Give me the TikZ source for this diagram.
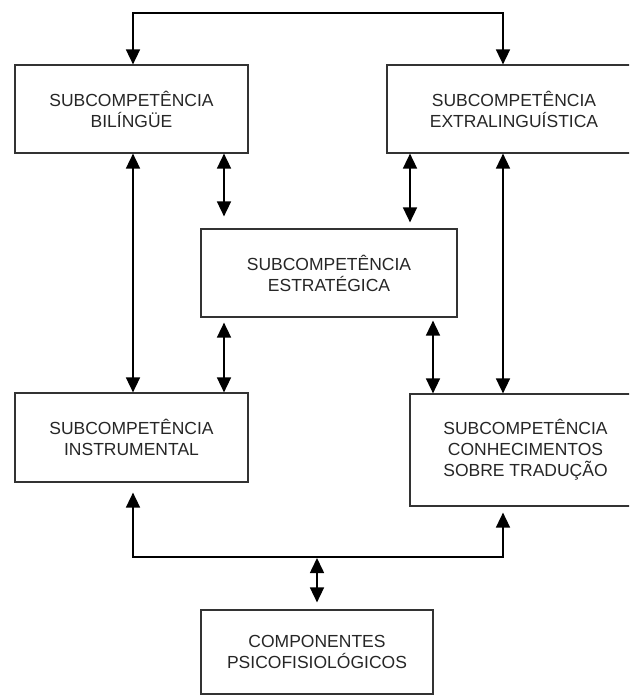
\documentclass[tikz,border=0pt]{standalone}
\usepackage{fontspec}
\setmainfont{Liberation Sans}
\usetikzlibrary{arrows.meta}
\tikzset{
  caixa/.style={draw=black!80, line width=1.2pt, align=center, inner sep=0pt,
    font=\fontsize{17.5}{21}\selectfont, text=black!85},
  seta/.style={line width=1.6pt,
    {Triangle[width=14pt,length=15pt]}-{Triangle[width=14pt,length=15pt]}},
}
\begin{document}
\begin{tikzpicture}[x=1pt, y=-1pt]
  \clip (0,0) rectangle (629,698);
  % Caixas
  \node[caixa, minimum width=233pt, minimum height=88pt] (bil) at (131.5,109) {SUBCOMPETÊNCIA\\BILÍNGÜE};
  \node[caixa, minimum width=254pt, minimum height=88pt] (extra) at (514,109) {SUBCOMPETÊNCIA\\EXTRALINGUÍSTICA};
  \node[caixa, minimum width=256pt, minimum height=88pt] (estr) at (329,273) {SUBCOMPETÊNCIA\\ESTRATÉGICA};
  \node[caixa, minimum width=233pt, minimum height=89pt] (instr) at (131.5,437.5) {SUBCOMPETÊNCIA\\INSTRUMENTAL};
  \node[caixa, minimum width=231pt, minimum height=112pt] (conh) at (525.5,450) {SUBCOMPETÊNCIA\\CONHECIMENTOS\\SOBRE TRADUÇÃO};
  \node[caixa, minimum width=232pt, minimum height=84pt] (comp) at (317,652) {COMPONENTES\\PSICOFISIOLÓGICOS};

  % Colunas e linhas das setas
  \coordinate (c1) at (133,0);
  \coordinate (c2) at (224,0);
  \coordinate (c3) at (410,0);
  \coordinate (c4) at (433,0);
  \coordinate (c5) at (503,0);
  \coordinate (c6) at (317,0);
  \coordinate (topo) at (0,13);
  \coordinate (base) at (0,557);

  % Setas
  \draw[seta] (c1 |- bil.north) -- (c1 |- topo) -- (c5 |- topo) -- (c5 |- extra.north);
  \draw[seta] (c1 |- bil.south) -- (c1 |- instr.north);
  \draw[seta, shorten >=12pt] (c2 |- bil.south) -- (c2 |- estr.north);
  \draw[seta, shorten >=6pt] (c3 |- extra.south) -- (c3 |- estr.north);
  \draw[seta] (c5 |- extra.south) -- (c5 |- conh.north);
  \draw[seta, shorten <=5pt] (c2 |- estr.south) -- (c2 |- instr.north);
  \draw[seta, shorten <=3pt] (c4 |- estr.south) -- (c4 |- conh.north);
  \draw[seta, shorten <=10pt, shorten >=6pt] (c1 |- instr.south) -- (c1 |- base) -- (c5 |- base) -- (c5 |- conh.south);
  \draw[seta, shorten <=1pt, shorten >=7pt] (c6 |- base) -- (c6 |- comp.north);
\end{tikzpicture}
\end{document}
